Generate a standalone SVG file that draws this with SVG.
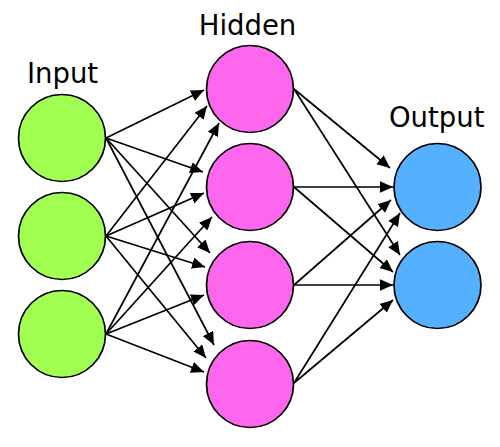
<svg xmlns="http://www.w3.org/2000/svg" width="500" height="447" viewBox="0 0 500 447">
<defs>
<marker id="arr" markerUnits="userSpaceOnUse" markerWidth="14" markerHeight="12" refX="13" refY="5.75" orient="auto" viewBox="0 0 14 12">
<path d="M0,0 L13,5.75 L0,11.5 z" fill="#000"/>
</marker>
<style>
.node{stroke:#000;stroke-width:1.7}
.in{fill:#a0ff50}
.hid{fill:#ff66ee}
.out{fill:#55b0ff}
.lbl{font-family:"DejaVu Sans",sans-serif;font-size:27.5px;fill:#000;text-anchor:middle}
#connectors line{stroke:#000;stroke-width:1.7;marker-end:url(#arr)}
</style>
</defs>
<rect width="500" height="447" fill="#fff"/>
<text class="lbl" x="62.5" y="82.5">Input</text>
<text class="lbl" x="247.5" y="35">Hidden</text>
<text class="lbl" x="436.7" y="126.5">Output</text>
<g id="connectors">
<line x1="106" y1="138" x2="204" y2="90"/>
<line x1="106" y1="138" x2="203" y2="172"/>
<line x1="106" y1="138" x2="210" y2="253"/>
<line x1="106" y1="138" x2="214" y2="345"/>
<line x1="106" y1="236" x2="207" y2="106"/>
<line x1="106" y1="236" x2="204" y2="193"/>
<line x1="106" y1="236" x2="205" y2="267"/>
<line x1="106" y1="236" x2="206" y2="358"/>
<line x1="106" y1="334" x2="219" y2="123"/>
<line x1="106" y1="334" x2="212" y2="217"/>
<line x1="106" y1="334" x2="204" y2="295"/>
<line x1="106" y1="334" x2="204" y2="372"/>
<line x1="294" y1="89" x2="390" y2="168"/>
<line x1="294" y1="89" x2="400" y2="255"/>
<line x1="294" y1="187" x2="393" y2="187"/>
<line x1="294" y1="187" x2="393" y2="272"/>
<line x1="294" y1="285" x2="391" y2="200"/>
<line x1="294" y1="285" x2="393" y2="285"/>
<line x1="294" y1="383" x2="400" y2="213"/>
<line x1="294" y1="383" x2="393" y2="300"/>
</g>
<g id="input1"><circle class="node in" cx="62" cy="138" r="43.5"/></g>
<g id="input2"><circle class="node in" cx="62" cy="236" r="43.5"/></g>
<g id="input3"><circle class="node in" cx="62" cy="334" r="43.5"/></g>
<g id="hidden1"><circle class="node hid" cx="250" cy="89" r="43.5"/></g>
<g id="hidden2"><circle class="node hid" cx="250" cy="187" r="43.5"/></g>
<g id="hidden3"><circle class="node hid" cx="250" cy="285" r="43.5"/></g>
<g id="hidden4"><circle class="node hid" cx="250" cy="384" r="43.5"/></g>
<g id="output1"><circle class="node out" cx="437.5" cy="187" r="43.5"/></g>
<g id="output2"><circle class="node out" cx="437.5" cy="285" r="43.5"/></g>
</svg>
